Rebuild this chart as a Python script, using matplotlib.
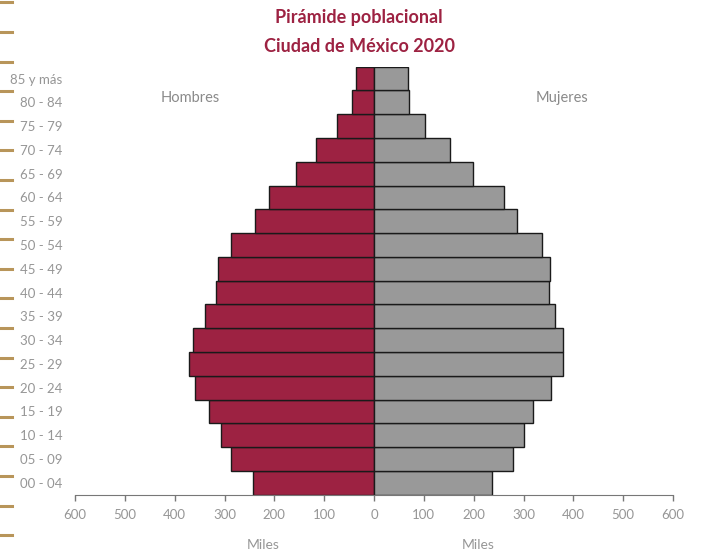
import matplotlib.pyplot as plt
import numpy as np

# grupos de edad, de abajo hacia arriba
grupos = ["00 - 04", "05 - 09", "10 - 14", "15 - 19", "20 - 24", "25 - 29",
          "30 - 34", "35 - 39", "40 - 44", "45 - 49", "50 - 54", "55 - 59",
          "60 - 64", "65 - 69", "70 - 74", "75 - 79", "80 - 84", "85 y más"]

# poblacion en miles
hombres = [243, 287, 308, 331, 359, 372, 363, 340, 317, 313, 287, 239,
           210, 157, 116, 74, 45, 36]
mujeres = [237, 278, 300, 319, 355, 380, 380, 364, 352, 354, 337, 286,
           261, 199, 153, 102, 71, 68]

xticks = list(range(-600, 601, 100))

plt.rcParams['font.family'] = ['Lato', 'DejaVu Sans']

guinda = '#9d2242'
gris = '#999999'
texto = '#969696'

fig = plt.figure(figsize=(7.01, 5.52), dpi=100)
ax = fig.add_axes([75 / 701, 1 - 494.7 / 552, 598 / 701, 428 / 552])

y = np.arange(len(grupos))
ax.barh(y, -np.array(hombres), height=1, color=guinda, edgecolor='#1a1a1a', linewidth=1)
ax.barh(y, mujeres, height=1, color=gris, edgecolor='#1a1a1a', linewidth=1)

ax.set_xlim(-600, 600)
ax.set_ylim(-0.5, len(grupos) - 0.5)

ax.set_xticks(xticks)
ax.set_xticklabels([str(abs(v)) for v in xticks])
ax.set_yticks(y)
ax.set_yticklabels(grupos)

ax.tick_params(axis='x', colors='#777777', labelcolor=texto, labelsize=9.5,
               length=4, width=1, pad=6)
ax.tick_params(axis='y', length=0, labelcolor=texto, labelsize=9.5, pad=9)

for s in ['left', 'right', 'top']:
    ax.spines[s].set_visible(False)
ax.spines['bottom'].set_color('#777777')

ax.text(-369, 16.2, "Hombres", color='#8a8a8a', fontsize=10.5, ha='center', va='center')
ax.text(378, 16.2, "Mujeres", color='#8a8a8a', fontsize=10.5, ha='center', va='center')

fig.text(263 / 701, 1 - 545 / 552, "Miles", color=texto, fontsize=10, ha='center', va='center')
fig.text(478 / 701, 1 - 545 / 552, "Miles", color=texto, fontsize=10, ha='center', va='center')

fig.text(359 / 701, 1 - 18 / 552, "Pirámide poblacional", color=guinda,
         fontsize=13, fontweight='bold', ha='center', va='center')
fig.text(359 / 701, 1 - 46 / 552, "Ciudad de México 2020", color=guinda,
         fontsize=13, fontweight='bold', ha='center', va='center')

# marcas decorativas del borde izquierdo
for k in range(19):
    yy = 1 - (2.3 + 29.6 * k) / 552
    fig.add_artist(plt.Line2D([0, 12 / 701], [yy, yy], color='#b8955a',
                              linewidth=2.2, transform=fig.transFigure))

fig.savefig('out.png', dpi=100)
